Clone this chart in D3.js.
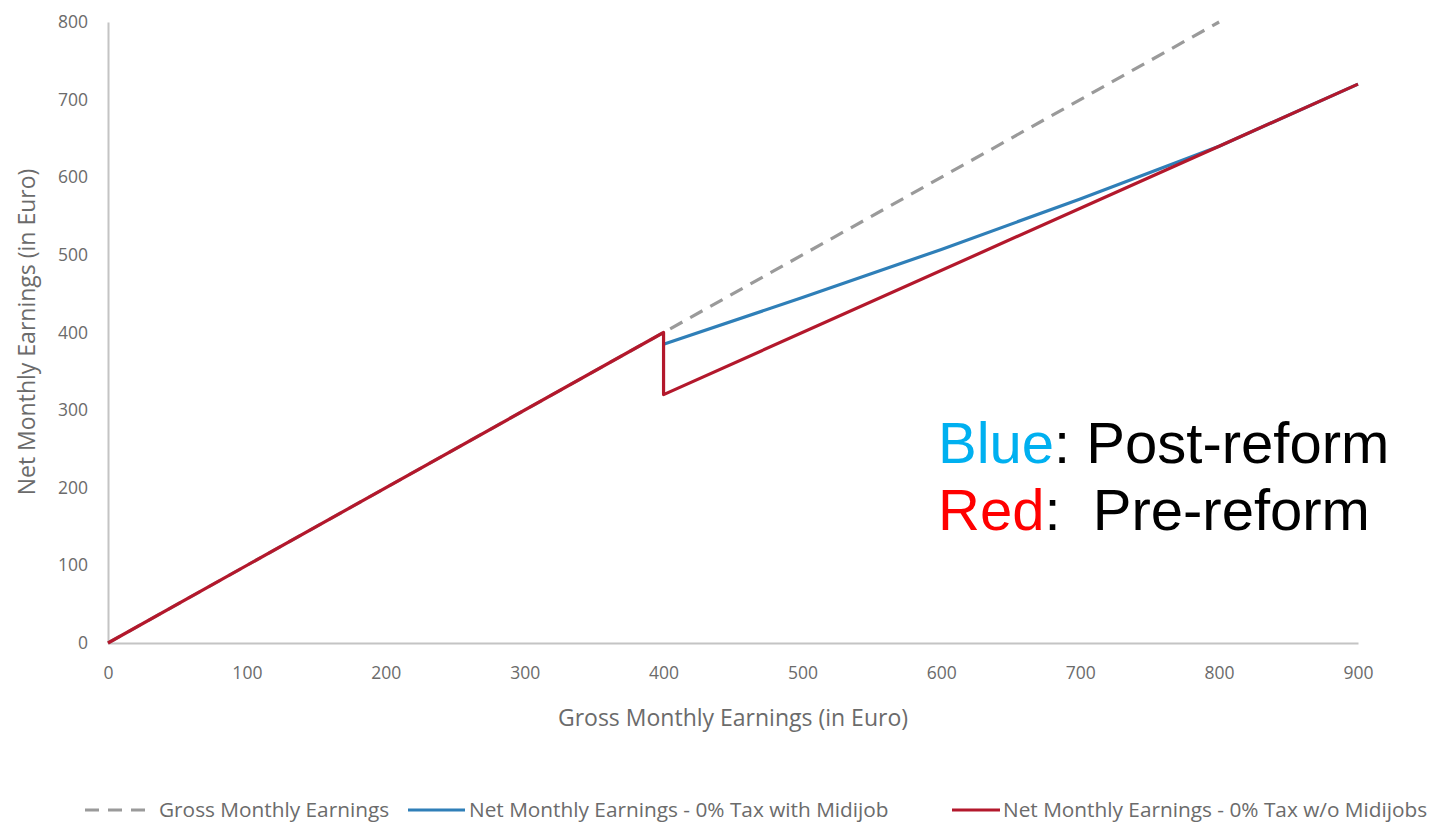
<!DOCTYPE html>
<html>
<head>
<meta charset="utf-8">
<script src="https://cdn.jsdelivr.net/npm/d3@7"></script>
<style>
  html, body { margin: 0; padding: 0; background: #fff; }
  svg { display: block; }
</style>
</head>
<body>
<svg id="chart" width="1440" height="823"></svg>
<script>
// Gross monthly earnings (x) and net monthly earnings under each regime
const grossX = [0, 400, 800];
const grossY = [0, 400, 800];

const midiX = [400, 500, 600, 700, 800, 900];
const midiY = [385, 445, 507, 572, 640, 720];

const noMidiX = [0, 400, 400, 800, 900];
const noMidiY = [0, 400, 320, 640, 720];

const xTicks = [0, 100, 200, 300, 400, 500, 600, 700, 800, 900];
const yTicks = [0, 100, 200, 300, 400, 500, 600, 700, 800];

const legendLabels = [
  "Gross Monthly Earnings",
  "Net Monthly Earnings - 0% Tax with Midijob",
  "Net Monthly Earnings - 0% Tax w/o Midijobs"
];

const svg = d3.select("#chart");
const plotLeft = 108, plotRight = 1358, plotTop = 22, plotBottom = 643;

const x = d3.scaleLinear().domain([0, 900]).range([plotLeft, plotRight]);
const y = d3.scaleLinear().domain([0, 800]).range([plotBottom, plotTop]);

const axisColor = "#c4c4c4";
const textColor = "#6b6b6b";
const labelFont = "'Open Sans', Lato, sans-serif";

// Axes
const xAxis = svg.append("g")
  .attr("transform", `translate(0,${plotBottom})`)
  .call(d3.axisBottom(x).tickValues(xTicks).tickSize(0).tickPadding(24));
const yAxis = svg.append("g")
  .attr("transform", `translate(${plotLeft},0)`)
  .call(d3.axisLeft(y).tickValues(yTicks).tickSize(0).tickPadding(20));

[xAxis, yAxis].forEach(g => {
  g.select(".domain").attr("stroke", axisColor).attr("stroke-width", 2);
  g.selectAll(".tick text")
    .attr("fill", textColor)
    .attr("font-family", labelFont)
    .attr("font-size", 17.5);
});

// Axis titles
svg.append("text")
  .attr("x", 733)
  .attr("y", 726)
  .attr("text-anchor", "middle")
  .attr("font-family", labelFont)
  .attr("font-size", 23)
  .attr("fill", textColor)
  .text("Gross Monthly Earnings (in Euro)");

svg.append("text")
  .attr("transform", `translate(35,332) rotate(-90)`)
  .attr("text-anchor", "middle")
  .attr("font-family", labelFont)
  .attr("font-size", 23)
  .attr("fill", textColor)
  .text("Net Monthly Earnings (in Euro)");

// Series
const line = d3.line().x(d => x(d[0])).y(d => y(d[1]));

const series = [
  { xs: grossX, ys: grossY, color: "#9a9a9a", dash: "14,9" },
  { xs: midiX, ys: midiY, color: "#2f7fb8", dash: null },
  { xs: noMidiX, ys: noMidiY, color: "#b3182c", dash: null }
];

series.forEach(s => {
  svg.append("path")
    .datum(d3.zip(s.xs, s.ys))
    .attr("d", line)
    .attr("fill", "none")
    .attr("stroke", s.color)
    .attr("stroke-width", 3.2)
    .attr("stroke-dasharray", s.dash)
    .attr("stroke-linejoin", "round");
});

// Legend
const legendY = 810;
const legendItems = [
  { x0: 85, x1: 150, tx: 159 },
  { x0: 408, x1: 465, tx: 469 },
  { x0: 952, x1: 1000, tx: 1003 }
];
legendItems.forEach((it, i) => {
  svg.append("line")
    .attr("x1", it.x0).attr("x2", it.x1)
    .attr("y1", legendY).attr("y2", legendY)
    .attr("stroke", series[i].color)
    .attr("stroke-width", 3.2)
    .attr("stroke-dasharray", series[i].dash);
  svg.append("text")
    .attr("x", it.tx)
    .attr("y", legendY)
    .attr("dy", "0.35em")
    .attr("font-family", labelFont)
    .attr("font-size", 20.8)
    .attr("fill", textColor)
    .text(legendLabels[i]);
});

// Annotation
const note = svg.append("g")
  .attr("font-family", "'Liberation Sans', Arial, sans-serif")
  .attr("font-size", 58);
const l1 = note.append("text").attr("x", 938).attr("y", 463);
l1.append("tspan").attr("fill", "#00b0f0").text("Blue");
l1.append("tspan").attr("fill", "#000").text(": Post-reform");
const l2 = note.append("text").attr("x", 938).attr("y", 530).attr("xml:space", "preserve");
l2.append("tspan").attr("fill", "#ff0000").text("Red");
l2.append("tspan").attr("fill", "#000").text(":  Pre-reform");
</script>
</body>
</html>
